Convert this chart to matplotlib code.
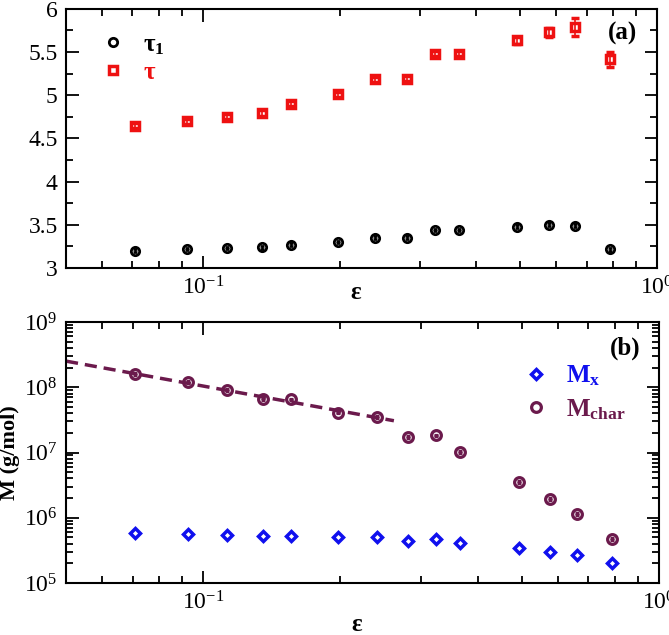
import numpy as np
import matplotlib
matplotlib.use("Agg")
import matplotlib.pyplot as plt
from matplotlib.ticker import FuncFormatter, MultipleLocator, LogLocator, NullFormatter
from matplotlib.lines import Line2D

plt.rcParams['font.family'] = ['Liberation Serif', 'DejaVu Serif']
plt.rcParams['mathtext.fontset'] = 'custom'
plt.rcParams['mathtext.rm'] = 'Liberation Serif'
plt.rcParams['mathtext.it'] = 'Liberation Serif:italic'
plt.rcParams['mathtext.bf'] = 'Liberation Serif:bold'

# strain amplitude (epsilon)
eps = [0.071, 0.0925, 0.113, 0.135, 0.156, 0.198, 0.240, 0.282, 0.324, 0.366,
       0.492, 0.577, 0.661, 0.788]

# panel (a): relaxation times
tau1 = [3.20, 3.22, 3.23, 3.24, 3.27, 3.30, 3.35, 3.35, 3.44, 3.44,
        3.48, 3.50, 3.49, 3.215]
tau1_err = [0.015] * 14
tau = [4.645, 4.70, 4.75, 4.795, 4.90, 5.01, 5.185, 5.19, 5.48, 5.48,
       5.635, 5.73, 5.79, 5.415]
tau_err = [0.03, 0.03, 0.03, 0.03, 0.03, 0.03, 0.03, 0.03, 0.03, 0.03,
           0.04, 0.05, 0.10, 0.09]

# panel (b): molar masses (g/mol)
M_x = [5.8e5, 5.6e5, 5.4e5, 5.2e5, 5.25e5, 5.0e5, 5.0e5, 4.45e5, 4.7e5, 4.1e5,
       3.4e5, 3.0e5, 2.67e5, 2.0e5]
M_char = [1.6e8, 1.19e8, 9.1e7, 6.6e7, 6.5e7, 4.1e7, 3.5e7, 1.73e7, 1.83e7, 1.02e7,
          3.5e6, 1.94e6, 1.13e6, 4.7e5]

# power-law fit drawn as dashed line: M = A * eps^(-k)
fit_A = 5.6e6
fit_k = 1.27
fit_range = (0.05, 0.262)

red = '#ee1111'
blue = '#1010ee'
purple = '#6b1a4c'

fig = plt.figure(figsize=(6.69, 6.35), dpi=100)
ax0 = fig.add_axes([0.0987, 0.578, 0.8834, 0.408])
ax1 = fig.add_axes([0.0987, 0.0819, 0.8864, 0.411])

# ---- panel (a)
ax0.errorbar(eps, tau1, yerr=tau1_err, fmt='o', ms=6, mfc='none', mec='black',
             mew=2, ecolor='black', elinewidth=1, capsize=1.5, capthick=1)
ax0.errorbar(eps, tau, yerr=tau_err, fmt='s', ms=5.5, mfc='none', mec=red,
             mew=2.5, ecolor=red, elinewidth=1.2, capsize=3, capthick=1.2)
ax0.set_xscale('log')
ax0.set_xlim(0.05, 1)
ax0.set_ylim(3, 6)
ax0.yaxis.set_major_locator(MultipleLocator(0.5))
ax0.yaxis.set_minor_locator(MultipleLocator(0.25))
ax0.yaxis.set_major_formatter(FuncFormatter(lambda v, p: '%g' % v))
ax0.set_xlabel('ε', fontsize=18, fontweight='bold')
ax0.xaxis.set_label_coords(0.49, -0.05)
ax0.text(0.967, 0.907, '(a)', transform=ax0.transAxes, ha='right', va='center',
         fontsize=18, fontweight='bold')

h0 = [Line2D([], [], ls='none', marker='o', ms=6, mfc='none', mec='black', mew=2),
      Line2D([], [], ls='none', marker='s', ms=5.5, mfc='none', mec=red, mew=2.5)]
leg0 = ax0.legend(h0, [r'$\mathbf{\tau_1}$', r'$\mathbf{\tau}$'], loc='upper left',
                  bbox_to_anchor=(0.058, 0.905), frameon=False, fontsize=18,
                  handletextpad=0.7, labelspacing=0.2, handlelength=1.0,
                  borderpad=0, borderaxespad=0)
for t, c in zip(leg0.get_texts(), ['black', red]):
    t.set_color(c)

# ---- panel (b)
ax1.errorbar(eps, M_x, fmt='D', ms=5.5, mfc='none', mec=blue, mew=2.5)
ax1.errorbar(eps, M_char, yerr=[v * 0.03 for v in M_char], fmt='o', ms=7,
             mfc='none', mec=purple, mew=2.3, ecolor=purple, elinewidth=1,
             capsize=1.5, capthick=1)
xf = np.geomspace(fit_range[0], fit_range[1], 50)
ax1.plot(xf, fit_A * xf ** (-fit_k), color=purple, lw=2.5, dashes=(3.5, 2))
ax1.set_xscale('log')
ax1.set_yscale('log')
ax1.set_xlim(0.05, 1)
ax1.set_ylim(1e5, 1e9)
ax1.yaxis.set_major_locator(LogLocator(base=10, numticks=10))
ax1.yaxis.set_minor_locator(LogLocator(base=10, subs=np.arange(2, 10), numticks=20))
ax1.yaxis.set_minor_formatter(NullFormatter())
ax1.set_xlabel('ε', fontsize=18, fontweight='bold')
ax1.xaxis.set_label_coords(0.49, -0.115)
ax1.set_ylabel('M (g/mol)', fontsize=16, fontweight='bold')
ax1.yaxis.set_label_coords(-0.077, 0.5)
ax1.text(0.968, 0.90, '(b)', transform=ax1.transAxes, ha='right', va='center',
         fontsize=18, fontweight='bold')

h1 = [Line2D([], [], ls='none', marker='D', ms=5.5, mfc='none', mec=blue, mew=2.5),
      Line2D([], [], ls='none', marker='o', ms=7, mfc='none', mec=purple, mew=2.3)]
leg1 = ax1.legend(h1, [r'$\mathbf{M_x}$', r'$\mathbf{M_{char}}$'], loc='upper left',
                  bbox_to_anchor=(0.772, 0.84), frameon=False, fontsize=18,
                  handletextpad=0.7, labelspacing=0.35, handlelength=1.0,
                  borderpad=0, borderaxespad=0)
for t, c in zip(leg1.get_texts(), [blue, purple]):
    t.set_color(c)

for ax in (ax0, ax1):
    for s in ax.spines.values():
        s.set_linewidth(1.5)
    ax.tick_params(which='both', direction='in', top=True, right=True,
                   labelsize=17, width=1.3)
    ax.tick_params(which='major', length=9, pad=6)
    ax.tick_params(which='minor', length=5)
    ax.xaxis.set_minor_formatter(NullFormatter())

fig.savefig('out.png', dpi=100)
